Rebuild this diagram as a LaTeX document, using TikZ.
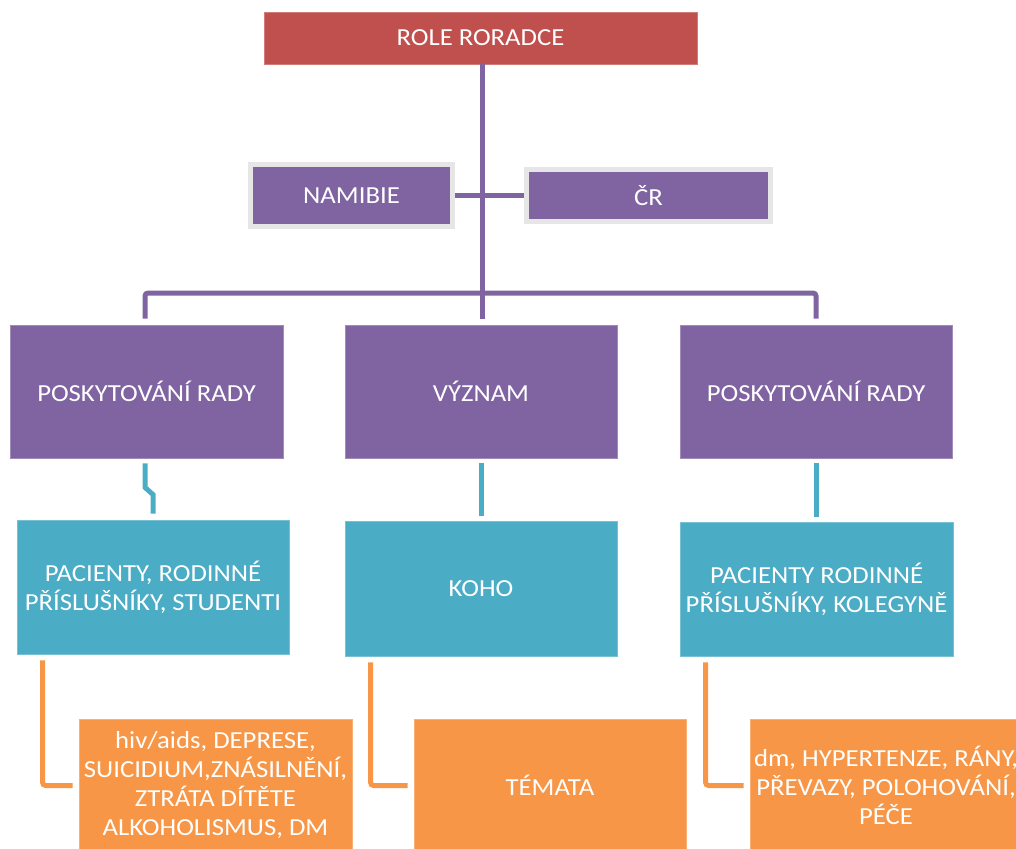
\documentclass[tikz,border=0pt]{standalone}
\usepackage{fontspec}
\setmainfont{Carlito}[FakeStretch=1.09]
\usetikzlibrary{calc}
\definecolor{cred}{HTML}{C0504D}
\definecolor{cpurple}{HTML}{8064A2}
\definecolor{ccyan}{HTML}{4BACC6}
\definecolor{corange}{HTML}{F79646}
\definecolor{cframe}{HTML}{E6E6E6}
\begin{document}
\begin{tikzpicture}[x=1pt,y=-1pt,
  box/.style={rectangle, inner sep=0pt, align=center, text=white,
    font=\fontsize{24.5}{29}\selectfont, line width=0.8pt},
  redbox/.style={box, fill=cred, draw=cred!75!white},
  purplebox/.style={box, fill=cpurple, draw=cpurple!75!white},
  framedbox/.style={box, fill=cpurple, draw=cframe, line width=5pt},
  cyanbox/.style={box, fill=ccyan, draw=ccyan!75!white},
  orangebox/.style={box, fill=corange, draw=corange!75!white},
  pline/.style={draw=cpurple, line width=5pt, rounded corners=3pt},
  cline/.style={draw=ccyan, line width=5pt},
  oline/.style={draw=corange, line width=5pt, rounded corners=3pt},
]
\useasboundingbox (0,0) rectangle (1016,848);
\clip (0,0) rectangle (1016,848);

% top level
\node[redbox, minimum width=433, minimum height=52] (root) at (480.5,38) {ROLE RORADCE};

% country boxes
\node[framedbox, minimum width=202, minimum height=62] (namibie) at (351.5,195.5) {NAMIBIE};
\node[framedbox, minimum width=244, minimum height=52] (cr) at (648.5,195.5) {ČR};

% first row
\node[purplebox, minimum width=273, minimum height=133] (p1) at (146.5,391.5) {POSKYTOVÁNÍ RADY};
\node[purplebox, minimum width=272, minimum height=133] (p2) at (481,391.5) {VÝZNAM};
\node[purplebox, minimum width=272, minimum height=133] (p3) at (816,391.5) {POSKYTOVÁNÍ RADY};

% second row
\node[cyanbox, minimum width=272, minimum height=134] (c1) at (153,587) {PACIENTY, RODINNÉ\\PŘÍSLUŠNÍKY, STUDENTI};
\node[cyanbox, minimum width=272, minimum height=135] (c2) at (481,588.5) {KOHO};
\node[cyanbox, minimum width=273, minimum height=134] (c3) at (816.5,589) {PACIENTY RODINNÉ\\PŘÍSLUŠNÍKY, KOLEGYNĚ};

% third row
\node[orangebox, minimum width=273, minimum height=133] (o1) at (215.5,785.5) {hiv/aids, DEPRESE,\\SUICIDIUM,ZNÁSILNĚNÍ,\\ZTRÁTA DÍTĚTE\\ALKOHOLISMUS, DM};
\node[orangebox, minimum width=272, minimum height=133] (o2) at (550,785.5) {TÉMATA};
\node[orangebox, minimum width=272, minimum height=133] (o3) at (886,785.5) {dm, HYPERTENZE, RÁNY,\\PŘEVAZY, POLOHOVÁNÍ,\\PÉČE};

% purple tree
\coordinate (bus) at (482,293);
\draw[pline] (root.south -| bus) -- ($(p2.north -| bus)+(0,-6)$);
\draw[pline] (cr.west) -- (cr.west -| namibie.east);
\draw[pline] ($(p1.north)+(-1.5,-6)$) |- (bus) -| ($(p3.north)+(0,-6)$);

% cyan links
\draw[cline] ($(p1.south)+(-1.5,5)$) -- ++(0,24) -- ($(c1.north)+(0,-25)$) -- ($(c1.north)+(0,-6)$);
\draw[cline] ($(p2.south)+(0,5)$) -- ($(c2.north -| p2.south)+(0,-5)$);
\draw[cline] ($(p3.south)+(0,5)$) -- ($(c3.north -| p3.south)+(0,-5)$);

% orange links
\draw[oline] ($(c1.south west)+(26,6)$) |- ($(o1.west)+(-6,0)$);
\draw[oline] ($(c2.south west)+(26,6)$) |- ($(o2.west)+(-6,0)$);
\draw[oline] ($(c3.south west)+(26,6)$) |- ($(o3.west)+(-6,0)$);
\end{tikzpicture}
\end{document}
